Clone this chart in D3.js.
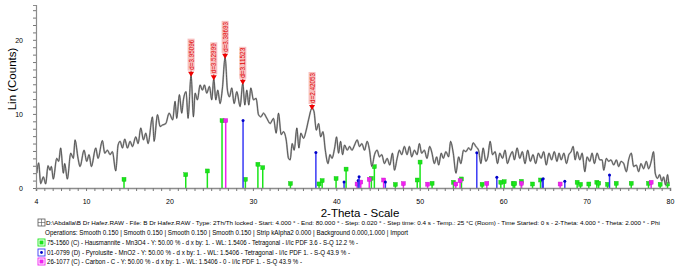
<!DOCTYPE html>
<html>
<head>
<meta charset="utf-8">
<script src="https://cdn.jsdelivr.net/npm/d3@7"></script>
<style>
  body { margin: 0; background: #fff; }
  text { font-family: "Liberation Sans", Arial, sans-serif; }
</style>
</head>
<body>
<div id="chart"></div>
<script>
// measured scan (2-Theta, Lin counts), traced peak/trough by peak/trough
const scanAngle = [4.1, 4.32, 4.56, 4.88, 5.16, 5.44, 5.68, 5.84, 6.08, 6.48, 6.72, 6.96, 7.28, 7.44, 7.76, 8.16, 8.48, 8.68, 9.04, 9.28, 9.76, 10.08, 10.36, 10.64, 11.16, 11.44, 11.96, 12.24, 12.56, 12.88, 13.16, 13.56, 13.84, 14.08, 14.36, 14.64, 14.96, 15.28, 15.56, 15.96, 16.24, 16.56, 16.88, 17.16, 17.44, 17.96, 18.16, 18.56, 18.88, 19.16, 19.56, 19.96,
  20.39, 20.67, 20.87, 21.19, 21.47, 21.67, 21.99, 22.23, 22.59, 22.87, 23.07, 23.35, 23.67, 23.95, 24.19, 24.47, 24.79, 25.07, 25.31, 25.55, 25.79, 26.07, 26.35, 26.67, 26.95, 27.19, 27.47, 27.75, 28.07, 28.47, 28.79, 29.03, 29.27, 29.51, 29.75, 30.07, 30.39, 30.67, 30.95, 31.27, 31.67, 32.07, 32.47, 32.79, 33.07, 33.39, 33.67, 33.99, 34.27, 34.47, 34.71, 34.95, 35.27, 35.51, 35.75, 36.07, 36.39, 36.67,
  37.09, 37.33, 37.6, 37.88, 38.12, 38.4, 38.68, 39.0, 39.24, 39.48, 39.8, 40.03, 40.27, 40.51, 40.75, 40.99, 41.31, 41.59, 41.87, 42.19, 42.5, 42.78, 43.06, 43.38, 43.7, 43.98, 44.26, 44.58, 44.89, 45.17, 45.45, 45.77, 46.09, 46.41, 46.73, 46.97, 47.29, 47.56, 47.84, 48.16, 48.48, 48.76, 49.04, 49.36, 49.68, 49.96, 50.23, 50.55, 50.87, 51.19,
  51.47, 51.75, 52.03, 52.27, 52.58, 52.82, 53.14, 53.46, 53.7, 54.02, 54.34, 54.66, 54.93, 55.25, 55.53, 55.85, 56.13, 56.41, 56.73, 57.05, 57.33, 57.6, 57.92, 58.16, 58.44, 58.72, 59.04, 59.32, 59.6, 59.92, 60.23, 60.51, 60.79, 61.11, 61.35, 61.67, 61.99, 62.3, 62.62, 62.94, 63.26, 63.58, 63.9, 64.22, 64.54, 64.86, 65.17, 65.49, 65.81, 66.13, 66.45,
  66.7, 66.96, 67.28, 67.59, 67.87, 68.15, 68.39, 68.63, 68.87, 69.19, 69.47, 69.79, 70.06, 70.38, 70.66, 70.94, 71.26, 71.58, 71.86, 72.06, 72.37, 72.65, 72.93, 73.25, 73.57, 73.85, 74.13, 74.45, 74.77, 75.04, 75.36, 75.64, 75.96, 76.24, 76.52, 76.84, 77.16, 77.44, 77.75, 78.03, 78.23, 78.51, 78.75, 79.03, 79.23, 79.47, 79.71, 79.85];
const scanCounts = [2.0, 3.4, 0.6, 1.5, 0.55, 3.0, 2.4, 2.9, 1.2, 4.0, 3.6, 5.4, 2.0, 3.3, 1.2, 4.7, 4.0, 6.5, 4.0, 2.9, 5.1, 3.6, 4.5, 2.9, 5.4, 4.0, 6.4, 4.7, 5.1, 4.5, 4.9, 2.3, 5.8, 6.3, 5.4, 6.6, 5.4, 6.3, 5.6, 6.9, 6.0, 8.1, 6.5, 7.4, 6.0, 9.6, 6.3, 9.9, 8.3, 8.5, 8.7, 10.1,
  9.2, 11.7, 9.4, 12.6, 10.1, 11.9, 13.0, 9.4, 15.3, 9.6, 12.8, 11.9, 13.9, 13.2, 13.9, 12.8, 13.7, 11.9, 14.8, 11.9, 13.2, 11.4, 13.5, 17.7, 13.2, 12.3, 13.5, 11.4, 13.0, 11.0, 14.2, 11.2, 13.2, 11.2, 13.5, 11.9, 12.1, 9.9, 9.6, 10.1, 9.4, 8.7, 9.4, 7.4, 10.1, 7.2, 7.6, 6.5, 4.0, 3.8, 6.0, 5.1, 8.1, 5.4, 7.4, 6.7, 7.8, 9.2,
  10.8, 10.3, 7.8, 8.7, 6.9, 7.6, 5.1, 3.3, 4.5, 4.0, 5.4, 6.9, 4.7, 6.3, 4.5, 5.8, 5.1, 5.6, 5.1, 5.8, 6.5, 5.6, 6.0, 5.1, 6.3, 5.1, 2.9, 4.5, 5.1, 4.2, 4.5, 3.3, 4.0, 3.1, 4.7, 2.4, 4.0, 5.1, 4.5, 5.6, 4.5, 5.6, 4.2, 5.1, 4.5, 6.0, 4.7, 5.1, 4.0, 5.6,
  4.7, 3.3, 4.2, 3.1, 4.7, 4.0, 4.9, 4.2, 6.3, 4.7, 2.0, 4.2, 3.3, 5.1, 4.9, 5.4, 5.1, 6.1, 5.6, 5.1, 3.3, 5.4, 3.6, 4.2, 6.3, 4.5, 4.9, 3.3, 4.7, 4.0, 5.1, 3.3, 4.2, 4.9, 3.8, 5.4, 4.0, 4.9, 3.3, 5.1, 3.6, 4.5, 3.3, 4.7, 4.0, 4.9, 3.1, 4.7, 3.8, 4.9, 3.6,
  4.7, 3.8, 4.7, 3.3, 4.5, 4.9, 5.6, 3.8, 4.9, 3.8, 4.7, 2.2, 4.2, 3.6, 4.7, 3.3, 4.7, 3.8, 3.8, 2.4, 4.0, 3.6, 3.8, 3.1, 3.8, 2.9, 3.6, 3.3, 2.2, 3.8, 4.7, 2.9, 3.1, 2.2, 3.3, 2.6, 3.6, 2.6, 3.6, 4.9, 2.0, 1.3, 1.8, 0.9, 1.5, 0.4, 1.8, 0.6];

// peak search results
const peakAngle = [22.59, 25.31, 26.67, 28.79, 37.09];
const peakCounts = [15.3, 14.8, 17.7, 14.2, 10.8];
const peakLabels = ["d=3.95096", "d=3.52999", "d=3.38693", "d=3.11523", "d=2.42053"];

// reference patterns (stick positions and heights in counts)
const hausAngle = [14.55, 21.95, 24.54, 26.3, 29.1, 30.6, 31.18, 34.5, 37.93, 38.3, 39.97, 41.17, 44.2, 44.56, 47.08, 49.7, 50.04, 51.48, 54.04, 55.0, 57.48, 59.72, 60.12, 61.2, 61.38, 62.19, 63.52, 64.48, 68.87, 69.27, 70.27, 71.23, 71.45, 72.51, 73.55, 75.35, 77.42, 78.82, 79.7];
const hausCounts = [1.17, 1.8, 2.3, 9.1, 1.17, 3.2, 2.75, 0.6, 0.55, 1.0, 1.28, 2.55, 1.3, 2.88, 0.48, 1.08, 3.5, 0.63, 0.77, 1.22, 0.5, 0.77, 0.86, 0.59, 0.6, 0.9, 0.54, 1.08, 0.77, 0.5, 0.54, 0.77, 0.65, 0.5, 0.63, 0.63, 0.63, 0.5, 0.54];
const pyroAngle = [28.82, 37.55, 40.93, 42.62, 42.73, 45.88, 56.84, 59.24, 64.7, 64.8, 67.39, 72.75];
const pyroCounts = [9.1, 4.78, 0.8, 1.0, 1.53, 0.8, 4.77, 1.44, 1.1, 1.25, 0.9, 1.76];
const carbAngle = [26.74, 42.49, 42.93, 43.95, 45.67, 48.04, 50.94, 54.32, 54.84, 58.04, 62.19, 66.83, 77.74];
const carbCounts = [9.1, 0.54, 0.8, 1.17, 1.08, 0.6, 0.52, 0.54, 0.99, 0.63, 0.63, 0.54, 0.77];

const xTickValues = [4, 10, 20, 30, 40, 50, 60, 70, 80];
const yTickValues = [0, 10, 20];

const legendLines = [
  "D:\\Abdalla\\B Dr Hafez.RAW - File: B Dr Hafez.RAW - Type: 2Th/Th locked - Start: 4.000 ° - End: 80.000 ° - Step: 0.020 ° - Step time: 0.4 s - Temp.: 25 °C (Room) - Time Started: 0 s - 2-Theta: 4.000 ° - Theta: 2.000 ° - Phi",
  "Operations: Smooth 0.150 | Smooth 0.150 | Smooth 0.150 | Smooth 0.150 | Strip kAlpha2 0.000 | Background 0.000,1.000 | Import",
  "75-1560 (C) - Hausmannite - Mn3O4 - Y: 50.00 % - d x by: 1. - WL: 1.5406 - Tetragonal - I/Ic PDF 3.6 - S-Q 12.2 % -",
  "01-0799 (D) - Pyrolusite - MnO2 - Y: 50.00 % - d x by: 1. - WL: 1.5406 - Tetragonal - I/Ic PDF 1. - S-Q 43.9 % -",
  "26-1077 (C) - Carbon - C - Y: 50.00 % - d x by: 1. - WL: 1.5406 - 0 - I/Ic PDF 1. - S-Q 43.9 % -"
];

const SIZE = { width: 680, height: 269 };
const PLOT = { left: 36, right: 670, top: 5, bottom: 188 };

function initialize() {
  const svg = d3.select("div#chart").append("svg")
      .attr("width", SIZE.width)
      .attr("height", SIZE.height)
      .style("display", "block")
      .style("background", "#fff");

  const x = d3.scaleLinear().domain([4, 80]).range([PLOT.left, PLOT.right]);
  const y = d3.scaleLinear().domain([0, 24.7]).range([PLOT.bottom, PLOT.top]);

  // sticks of the reference patterns
  function sticks(angles, counts, color, head) {
    const g = svg.append("g");
    angles.forEach((a, i) => {
      g.append("line")
          .attr("x1", x(a)).attr("x2", x(a))
          .attr("y1", y(0)).attr("y2", y(counts[i]))
          .attr("stroke", color).attr("stroke-width", 1.5);
      if (head === "square") {
        g.append("rect")
            .attr("x", x(a) - 2).attr("y", y(counts[i]) - 2)
            .attr("width", 4).attr("height", 4)
            .attr("fill", color).attr("stroke", d3.color(color).darker(0.6)).attr("stroke-width", 0.4);
      } else {
        g.append("circle")
            .attr("cx", x(a)).attr("cy", y(counts[i]))
            .attr("r", 1.5).attr("fill", "#0000c8");
      }
    });
  }
  sticks(hausAngle, hausCounts, "#19e619", "square");
  sticks(carbAngle, carbCounts, "#f020f0", "square");
  sticks(pyroAngle, pyroCounts, "#3a3af5", "dot");

  // scan
  const line = d3.line()
      .x(i => x(scanAngle[i]))
      .y(i => y(scanCounts[i]))
      .curve(d3.curveMonotoneX);
  const idx = d3.range(scanAngle.length);
  svg.append("path").attr("d", line(idx))
      .attr("fill", "none").attr("stroke", "#b0b0b0").attr("stroke-width", 1.8);
  svg.append("path").attr("d", line(idx))
      .attr("fill", "none").attr("stroke", "#333").attr("stroke-width", 0.7);

  // axes
  const xAxis = svg.append("g").attr("transform", `translate(0,${PLOT.bottom})`);
  xAxis.call(d3.axisBottom(x).tickValues(d3.range(4, 81)).tickSize(3).tickFormat(""));
  xAxis.select(".domain").attr("stroke", "#8c8c8c").attr("stroke-width", 1.6);
  xAxis.selectAll(".tick line").attr("stroke", "#777");
  svg.append("g").attr("transform", `translate(0,${PLOT.bottom})`)
      .call(d3.axisBottom(x).tickValues(xTickValues).tickSize(0).tickPadding(11))
      .call(g => g.select(".domain").remove())
      .selectAll("text").attr("font-size", 7).attr("font-family", "Liberation Sans, Arial").attr("fill", "#000");

  const yAxis = svg.append("g").attr("transform", `translate(${PLOT.left},0)`);
  yAxis.call(d3.axisLeft(y).tickValues(d3.range(0, 25)).tickSize(3).tickFormat(""));
  yAxis.select(".domain").attr("stroke", "#8c8c8c").attr("stroke-width", 1.2);
  yAxis.selectAll(".tick line").attr("stroke", "#777");
  svg.append("g").attr("transform", `translate(${PLOT.left},0)`)
      .call(d3.axisLeft(y).tickValues(yTickValues).tickSize(0).tickPadding(13))
      .call(g => g.select(".domain").remove())
      .selectAll("text").attr("font-size", 7).attr("font-family", "Liberation Sans, Arial").attr("fill", "#000");

  // axis titles
  svg.append("text")
      .attr("transform", "translate(16,79) rotate(-90)")
      .attr("text-anchor", "middle")
      .attr("font-size", 11.5)
      .text("Lin (Counts)");
  svg.append("text")
      .attr("x", 360).attr("y", 216.5)
      .attr("text-anchor", "middle")
      .attr("font-size", 11.5)
      .text("2-Theta - Scale");

  // peak labels
  const pk = svg.append("g");
  peakAngle.forEach((a, i) => {
    const px = x(a), py = y(peakCounts[i]);
    const len = 32;
    pk.append("rect")
        .attr("x", px - 3.5).attr("y", py - 4 - len)
        .attr("width", 7).attr("height", len)
        .attr("fill", "#f6b4b4").attr("opacity", 0.85);
    pk.append("line")
        .attr("x1", px).attr("x2", px).attr("y1", py - 4).attr("y2", py)
        .attr("stroke", "#a00").attr("stroke-width", 0.8);
    pk.append("text")
        .attr("transform", `translate(${px + 2.5},${py - 5}) rotate(-90)`)
        .attr("font-size", 7)
        .attr("textLength", 30).attr("lengthAdjust", "spacingAndGlyphs")
        .attr("fill", "#e00000")
        .text(peakLabels[i]);
    pk.append("path")
        .attr("d", `M${px - 3},${py - 3}L${px + 3},${py - 3}L${px},${py + 2}Z`)
        .attr("fill", "#f00000");
  });

  // legend
  const lg = svg.append("g");
  const lineY = [225, 235, 245, 255, 264];
  const lineX = [46, 45, 47, 47, 47];
  const lineLen = [614, 363, 311, 303, 255];
  const lineFont = [6.0, 6.6, 6.6, 6.6, 6.6];
  legendLines.forEach((t, i) => {
    lg.append("text")
        .attr("x", lineX[i]).attr("y", lineY[i])
        .attr("font-size", lineFont[i])
        .attr("textLength", lineLen[i]).attr("lengthAdjust", "spacingAndGlyphs")
        .attr("fill", "#000")
        .text(t);
  });
  // file icon
  lg.append("rect").attr("x", 38).attr("y", 219).attr("width", 7).attr("height", 7)
      .attr("fill", "#fff").attr("stroke", "#555").attr("stroke-width", 0.8);
  lg.append("path").attr("d", "M41.5,219V226M38,222.5H45")
      .attr("stroke", "#555").attr("stroke-width", 0.6);
  const boxes = [["#19e619", "square"], ["#3a3af5", "dot"], ["#f020f0", "square"]];
  boxes.forEach((b, i) => {
    const cy = lineY[i + 2] - 2.5;
    lg.append("rect").attr("x", 38).attr("y", cy - 3.5).attr("width", 7).attr("height", 7)
        .attr("fill", "#fff").attr("stroke", b[0]).attr("stroke-width", 0.9);
    if (b[1] === "square") {
      lg.append("rect").attr("x", 39.5).attr("y", cy - 2).attr("width", 4).attr("height", 4).attr("fill", b[0]);
    } else {
      lg.append("circle").attr("cx", 41.5).attr("cy", cy).attr("r", 1.4).attr("fill", "#0000c8");
    }
  });
}

initialize();
</script>
</body>
</html>
